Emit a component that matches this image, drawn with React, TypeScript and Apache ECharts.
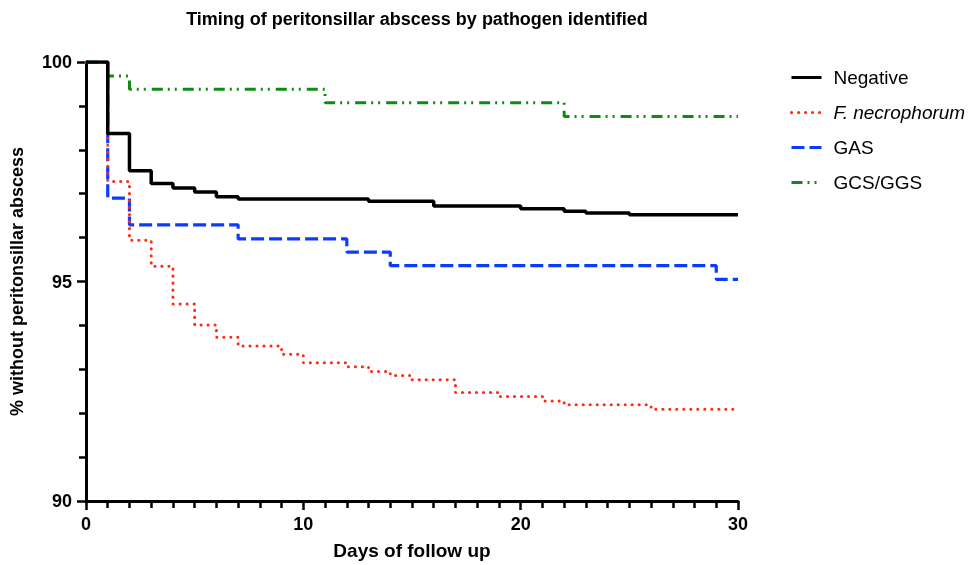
import React, { useEffect, useRef } from "react";
import * as echarts from "echarts";

const seriesNames = ["Negative", "F. necrophorum", "GAS", "GCS/GGS"];

const negDays = [0, 1, 2, 3, 4, 5, 6, 7, 13, 16, 20, 22, 23, 25, 30];
const negValues = [100, 98.37, 97.52, 97.23, 97.13, 97.04, 96.93, 96.88, 96.83, 96.72, 96.66, 96.6, 96.56, 96.52, 96.52];

const fnDays = [0, 1, 2, 3, 4, 5, 6, 7, 9, 10, 12, 13, 14, 15, 17, 19, 21, 22, 26, 30];
const fnValues = [100, 97.28, 95.94, 95.35, 94.49, 94.01, 93.73, 93.53, 93.34, 93.15, 93.06, 92.95, 92.86, 92.76, 92.47, 92.38, 92.28, 92.19, 92.09, 92.09];

const gasDays = [0, 1, 2, 7, 12, 14, 29, 30];
const gasValues = [100, 96.9, 96.29, 95.97, 95.67, 95.36, 95.05, 95.05];

const gcsDays = [0, 1, 2, 11, 22, 30];
const gcsValues = [100, 99.68, 99.38, 99.07, 98.76, 98.76];

const xTicks = { min: 0, max: 30, interval: 10 };
const yTicks = { min: 90, max: 100, interval: 5 };

const pairs = (d: number[], v: number[]) => d.map((x, i) => [x, v[i]]);

export default function App() {
  const ref = useRef<HTMLDivElement>(null);
  useEffect(() => {
    if (!ref.current) return;
    const chart = echarts.init(ref.current, null, { renderer: "svg" });
    const font = "'Liberation Sans', Arial, Helvetica, sans-serif";
    const mk = (name: string, d: number[], v: number[], color: string, type: any, width: number, z: number, cap: string) => ({
      name,
      type: "line",
      step: "end",
      data: pairs(d, v),
      symbol: "none",
      showSymbol: false,
      z,
      lineStyle: { color, width, type, cap },
      itemStyle: { color },
    });
    chart.setOption({
      animation: false,
      textStyle: { fontFamily: font },
      title: {
        text: "Timing of peritonsillar abscess by pathogen identified",
        left: 412,
        textAlign: "center",
        top: 5,
        textStyle: { fontFamily: font, fontSize: 18, fontWeight: "bold", color: "#000" },
      },
      legend: {
        orient: "vertical",
        left: 785,
        top: 63,
        itemWidth: 30,
        itemHeight: 14,
        itemGap: 16,
        data: seriesNames,
        itemStyle: { opacity: 0 },
        lineStyle: { width: 3 },
        formatter: (name: string) => (name === "F. necrophorum" ? "{i|" + name + "}" : "{n|" + name + "}"),
        textStyle: {
          fontFamily: font,
          fontSize: 19,
          color: "#000",
          rich: {
            i: { fontStyle: "italic", fontSize: 19, fontFamily: font, color: "#000", padding: [0, 0, 0, 7] },
            n: { fontSize: 19, fontFamily: font, color: "#000", padding: [0, 0, 0, 7] },
          },
        },
      },
      grid: { left: 86, right: 239, top: 62, bottom: 64, containLabel: false },
      xAxis: {
        type: "value",
        min: xTicks.min,
        max: xTicks.max,
        interval: xTicks.interval,
        name: "Days of follow up",
        nameLocation: "middle",
        nameGap: 40,
        nameTextStyle: { fontFamily: font, fontSize: 19, fontWeight: "bold", color: "#000" },
        axisLine: { show: true, lineStyle: { color: "#000", width: 3 } },
        axisTick: { show: true, length: 9, lineStyle: { color: "#000", width: 2.5 } },
        minorTick: { show: true, splitNumber: 10, length: 7, lineStyle: { color: "#000", width: 2.5 } },
        splitLine: { show: false },
        axisLabel: { fontFamily: font, fontSize: 18, fontWeight: "bold", color: "#000", margin: 14 },
      },
      yAxis: {
        type: "value",
        min: yTicks.min,
        max: yTicks.max,
        interval: yTicks.interval,
        name: "% without peritonsillar abscess",
        nameLocation: "middle",
        nameGap: 60,
        nameTextStyle: { fontFamily: font, fontSize: 18, fontWeight: "bold", color: "#000" },
        axisLine: { show: true, lineStyle: { color: "#000", width: 3 } },
        axisTick: { show: true, length: 9, lineStyle: { color: "#000", width: 2.5 } },
        minorTick: { show: true, splitNumber: 5, length: 7, lineStyle: { color: "#000", width: 2.5 } },
        splitLine: { show: false },
        axisLabel: { fontFamily: font, fontSize: 18, fontWeight: "bold", color: "#000", margin: 14 },
      },
      series: [
        mk(seriesNames[0], negDays, negValues, "#000000", "solid", 3.5, 5, "butt"),
        mk(seriesNames[1], fnDays, fnValues, "#ff2a14", [0.1, 6.9], 3, 4, "round"),
        mk(seriesNames[2], gasDays, gasValues, "#0a3cff", [13, 5], 3.2, 3, "butt"),
        mk(seriesNames[3], gcsDays, gcsValues, "#0f8c0f", [11, 5, 2, 5, 2, 6], 3, 2, "butt"),
      ],
    });
    return () => chart.dispose();
  }, []);
  return <div ref={ref} style={{ position: "fixed", left: 0, top: 0, width: 977, height: 565 }} />;
}
